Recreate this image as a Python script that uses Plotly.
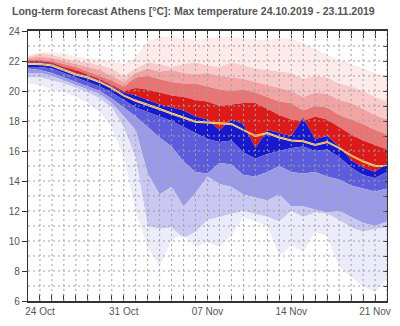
import pandas as pd
import plotly.graph_objects as go

dates = pd.date_range("2019-10-23", periods=31).strftime("%Y-%m-%d").tolist()

# boundaries from top (max) to bottom (min)
b_max = [22.4, 22.6, 22.6, 22.5, 22.3, 22.2, 22.1, 22.0, 21.8, 22.3, 23.3, 23.6, 23.6, 23.5, 23.4, 23.5,
         23.6, 23.6, 23.5, 23.4, 23.4, 23.5, 23.5, 23.2, 22.8, 22.4, 22.1, 21.8, 21.5, 21.2, 21.0]
b_q90 = [22.3, 22.5, 22.4, 22.2, 22.0, 21.9, 21.7, 21.5, 21.0, 21.5, 21.9, 21.8, 21.6, 21.8, 21.9, 21.7,
         21.6, 21.9, 21.7, 21.5, 21.4, 21.3, 21.2, 20.8, 21.0, 20.9, 20.5, 20.3, 20.0, 19.6, 19.3]
b_q80 = [22.2, 22.3, 22.2, 22.0, 21.8, 21.6, 21.4, 21.0, 20.6, 21.2, 21.5, 21.3, 21.4, 21.2, 21.1, 21.2,
         21.0, 20.9, 20.8, 20.6, 20.4, 20.2, 20.0, 19.6, 19.9, 19.8, 19.4, 19.2, 18.8, 18.4, 18.1]
b_q70 = [22.1, 22.1, 22.0, 21.8, 21.6, 21.3, 21.0, 20.7, 20.3, 20.9, 21.0, 20.8, 20.6, 20.5, 20.5, 20.3,
         20.1, 20.0, 20.1, 19.9, 19.6, 19.3, 19.2, 18.7, 19.0, 18.9, 18.4, 18.1, 17.8, 17.4, 17.1]
b_q60 = [22.0, 22.0, 21.9, 21.6, 21.4, 21.1, 20.8, 20.4, 20.0, 20.2, 20.1, 19.9, 19.7, 19.6, 19.4, 19.3,
         19.0, 19.1, 19.2, 19.2, 18.8, 18.4, 18.1, 18.0, 18.3, 18.1, 17.6, 17.1, 16.7, 16.4, 16.1]
b_q50 = [21.9, 21.9, 21.8, 21.5, 21.2, 21.0, 20.7, 20.3, 19.9, 19.7, 19.4, 19.1, 18.9, 18.7, 18.3, 18.1,
         17.4, 18.1, 17.8, 16.2, 17.4, 17.2, 17.0, 18.2, 16.8, 17.0, 16.3, 15.4, 14.9, 14.6, 15.2]
b_q40 = [21.6, 21.6, 21.5, 21.2, 20.9, 20.6, 20.3, 19.9, 19.4, 18.9, 18.6, 18.3, 18.0, 17.6, 17.2, 16.8,
         16.6, 16.7, 15.9, 15.5, 15.8, 16.0, 16.2, 16.3, 16.0, 16.1, 15.6, 14.9, 14.4, 14.2, 14.6]
b_q30 = [21.5, 21.4, 21.2, 20.9, 20.6, 20.3, 20.0, 19.5, 18.9, 18.3, 17.6, 16.9, 16.3, 15.3, 14.6, 14.5,
         15.2, 15.1, 14.4, 14.3, 14.6, 15.0, 14.6, 14.5, 14.6, 14.3, 14.1, 13.7, 13.5, 13.3, 13.5]
b_q20 = [21.2, 21.2, 21.0, 20.7, 20.4, 20.1, 19.8, 19.2, 18.3, 17.4, 14.5, 13.1, 13.6, 12.3, 13.2, 14.3,
         13.8, 13.6, 13.1, 12.9, 12.7, 13.1, 12.3, 12.3, 12.1, 11.9, 12.0, 11.6, 11.2, 11.0, 11.3]
b_q10 = [20.9, 20.9, 20.7, 20.5, 20.2, 19.9, 19.5, 18.9, 17.6, 15.5, 11.0, 10.8, 10.9, 10.2, 10.6, 11.4,
         11.6, 11.8, 12.0, 11.8, 11.6, 11.3, 12.0, 11.6, 11.9, 11.8, 11.4, 10.9, 10.6, 10.8, 10.9]
b_min = [20.5, 20.4, 20.1, 19.9, 19.6, 19.2, 18.6, 17.6, 15.6, 12.0, 9.6, 8.3, 10.1, 10.4, 9.6, 9.9,
         9.6, 10.4, 11.6, 11.3, 11.0, 9.0, 9.7, 9.3, 10.6, 10.3, 8.3, 7.6, 7.0, 6.6, 7.5]
mean_line = [21.8, 21.8, 21.7, 21.4, 21.1, 20.9, 20.6, 20.2, 19.7, 19.35, 19.1, 18.8, 18.5, 18.2, 17.95, 17.9,
             17.85, 17.8, 17.4, 17.0, 17.2, 16.9, 16.7, 16.65, 16.4, 16.6, 16.2, 15.7, 15.3, 15.0, 15.0]

bounds = [b_max, b_q90, b_q80, b_q70, b_q60, b_q50, b_q40, b_q30, b_q20, b_q10, b_min]
band_colors = ["#fdeaea", "#f8caca", "#f2a4a4", "#e87474", "#dc1a1a",
               "#1818cc", "#5c5cdc", "#9a9ae8", "#c8c8f2", "#ebebfa"]

y_ticks = list(range(6, 25, 2))
y_grid = list(range(7, 24))
title_text = "Long-term forecast Athens [°C]: Max temperature 24.10.2019 - 23.11.2019"

fig = go.Figure()
for i, col in enumerate(band_colors):
    up, lo = bounds[i], bounds[i + 1]
    fig.add_trace(go.Scatter(x=dates + dates[::-1], y=up + lo[::-1], fill="toself",
                             fillcolor=col, line=dict(width=0), mode="lines",
                             hoverinfo="skip", showlegend=False))
fig.add_trace(go.Scatter(x=dates, y=mean_line, mode="lines",
                         line=dict(color="#fff4d0", width=1.9), showlegend=False))
fig.add_trace(go.Scatter(x=dates, y=mean_line, mode="lines",
                         line=dict(color="#f5a000", width=0.9), showlegend=False))

grid_style = dict(color="#a0a0a0", width=1, dash="2px,3px")
shapes = []
for yv in y_grid:
    shapes.append(dict(type="line", xref="x domain", yref="y", x0=0, x1=1, y0=yv, y1=yv,
                       line=grid_style, layer="above"))
for d in dates[1:]:
    shapes.append(dict(type="line", xref="x", yref="y domain", x0=d, x1=d, y0=0, y1=1,
                       line=grid_style, layer="above"))

fig.update_layout(
    width=400, height=326,
    margin=dict(l=25, r=9, t=31, b=24),
    paper_bgcolor="white", plot_bgcolor="white",
    shapes=shapes,
    title=dict(text=title_text, x=0.03, xanchor="left", y=1 - 11 / 326, yanchor="middle",
               font=dict(family="Liberation Sans, Arial, sans-serif", size=10.5, color="#555555",
                         weight="bold")),
    font=dict(family="Liberation Sans, Arial, sans-serif", size=10, color="#555555"),
    xaxis=dict(type="date", range=[dates[0], dates[-1]], tick0="2019-10-24",
               dtick=7 * 86400000, tickformat="%d %b", ticks="inside", ticklen=7,
               tickcolor="#333", showgrid=False, showline=True, linecolor="#333",
               linewidth=1.5, mirror="allticks", zeroline=False,
               minor=dict(dtick=86400000, ticks="inside", ticklen=5, tickcolor="#333",
                          showgrid=False)),
    yaxis=dict(range=[6, 24], tickvals=y_ticks, ticks="outside", ticklen=5, tickcolor="#333",
               showgrid=False, showline=True, linecolor="#333", linewidth=1.2, mirror=True,
               zeroline=False),
    yaxis2=dict(range=[6, 24], overlaying="y", side="right", anchor="x", dtick=1,
                ticks="inside", ticklen=4, tickcolor="#333", showticklabels=False,
                showgrid=False, showline=False, zeroline=False),
)
fig.add_trace(go.Scatter(x=[dates[0]], y=[None], yaxis="y2", showlegend=False, hoverinfo="skip"))
fig.write_html("out.html")
